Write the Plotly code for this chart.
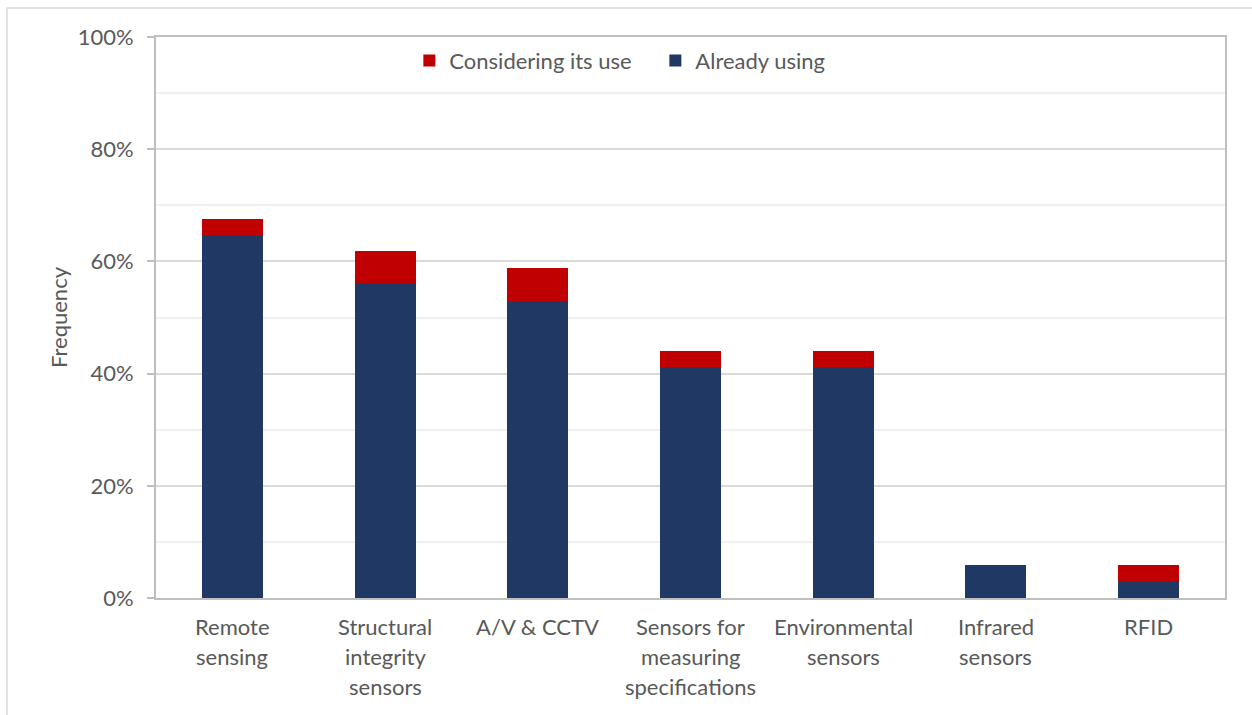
import plotly.graph_objects as go

# Survey results: share of respondents per sensor technology
categories = [
    "Remote sensing",
    "Structural integrity sensors",
    "A/V & CCTV",
    "Sensors for measuring specifications",
    "Environmental sensors",
    "Infrared sensors",
    "RFID",
]
label_lines = [
    ["Remote", "sensing"],
    ["Structural", "integrity", "sensors"],
    ["A/V & CCTV"],
    ["Sensors for", "measuring", "specifications"],
    ["Environmental", "sensors"],
    ["Infrared", "sensors"],
    ["RFID"],
]
already_using = [0.647, 0.559, 0.529, 0.412, 0.412, 0.059, 0.029]
considering_use = [0.029, 0.059, 0.059, 0.029, 0.029, 0.0, 0.029]

NAVY = "#203864"
RED = "#C00000"
TEXT = "#595959"
FONT = "Lato"
SIZE = 22

fig = go.Figure()
fig.add_trace(go.Bar(x=categories, y=already_using, name="Already using",
                     marker=dict(color=NAVY, line=dict(width=0))))
fig.add_trace(go.Bar(x=categories, y=considering_use, name="Considering its use",
                     marker=dict(color=RED, line=dict(width=0))))

# Multi-line category labels with wide line spacing
annotations = []
for cat, lines in zip(categories, label_lines):
    for i, line in enumerate(lines):
        annotations.append(dict(
            x=cat, y=0, xref="x", yref="y", text=line, showarrow=False,
            yanchor="middle", yshift=-28 - 30 * i,
            font=dict(family=FONT, size=SIZE, color=TEXT)))

fig.update_layout(
    width=1252, height=715,
    margin=dict(l=156, r=27, t=37, b=117),
    paper_bgcolor="white", plot_bgcolor="white",
    barmode="stack", bargap=0.6,
    font=dict(family=FONT, color=TEXT),
    legend=dict(orientation="h", traceorder="reversed",
                x=0.237, xanchor="left", y=0.995, yanchor="top",
                font=dict(family=FONT, size=SIZE, color=TEXT),
                itemwidth=30, itemsizing="constant", entrywidth=201,
                bgcolor="rgba(0,0,0,0)"),
    annotations=annotations,
    shapes=[dict(type="rect", xref="paper", yref="paper",
                 x0=-149 / 1069, x1=1.1, y0=-0.3, y1=1 + 29 / 561,
                 line=dict(color="#d9d9d9", width=1.5), layer="below")],
)

fig.update_xaxes(showticklabels=False, showline=True, linecolor="#bfbfbf",
                 linewidth=2, mirror=True, ticks="", showgrid=False)
fig.update_yaxes(range=[0, 1], dtick=0.2, tickformat=".0%",
                 tickfont=dict(family=FONT, size=SIZE, color=TEXT),
                 showline=True, linecolor="#bfbfbf", linewidth=2, mirror=True,
                 ticks="outside", ticklen=7, tickcolor="#bfbfbf", tickwidth=2,
                 showgrid=True, gridcolor="#d9d9d9", gridwidth=1.5,
                 minor=dict(dtick=0.1, showgrid=True, gridcolor="#f0f0f0", gridwidth=1.5),
                 zeroline=False, ticklabelstandoff=9,
                 title=dict(text="Frequency", font=dict(family=FONT, size=SIZE, color=TEXT),
                            standoff=4))

fig.write_html("out.html")
